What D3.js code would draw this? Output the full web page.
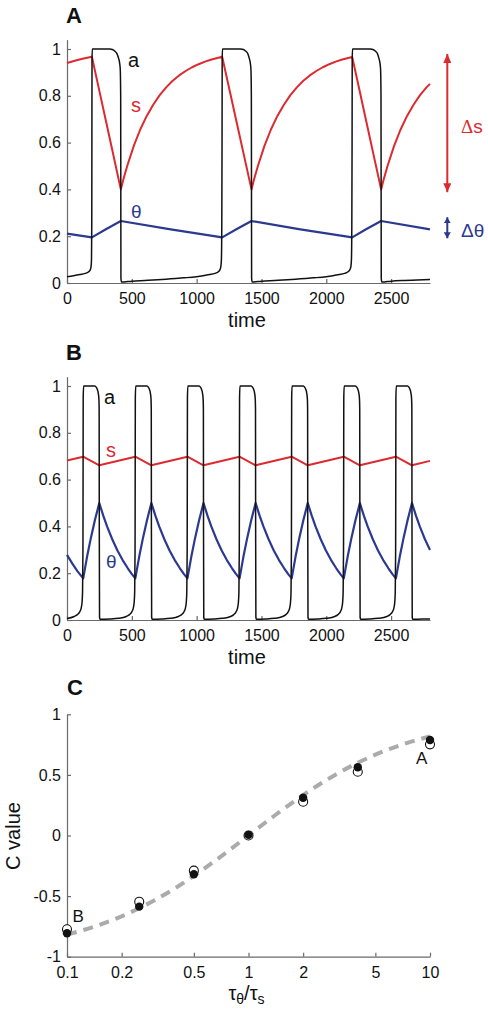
<!DOCTYPE html>
<html><head><meta charset="utf-8">
<script src="https://cdn.jsdelivr.net/npm/d3@7"></script>
<style>
body{margin:0;background:#fff;}
svg{display:block;}
text{font-family:"Liberation Sans",Arial,Helvetica,sans-serif;}
</style></head>
<body>
<script>
// ---------- DATA ----------
const timeTicks = [0,500,1000,1500,2000,2500];
const actTicks = [0,0.2,0.4,0.6,0.8,1];
const ratioTicks = [0.1,0.2,0.5,1,2,5,10];
const cTicks = [-1,-0.5,0,0.5,1];

// Panel A (tau_theta/tau_s = 10)
const aA = [[0,0.027],[50,0.031],[100,0.036],[140,0.041],[165,0.047],[178,0.055],[185,0.068],[189,0.1],[191,0.25],[192,0.6],[193,0.95],[195,1.0],
[330,1.0],[350,0.998],[370,0.99],[385,0.98],[398,0.96],[406,0.94],[411,0.91],[414,0.8],[415,0.4],[416,0.02],[420,0.004],
[500,0.008],[600,0.011],[700,0.014],[800,0.018],[900,0.022],[1000,0.027],[1050,0.031],[1100,0.036],[1140,0.041],[1165,0.047],[1178,0.055],[1186,0.068],[1191,0.1],[1194,0.25],[1196,0.6],[1197,0.95],[1199,1.0],
[1340,1.0],[1360,0.998],[1380,0.99],[1395,0.98],[1406,0.96],[1414,0.94],[1419,0.91],[1422,0.8],[1423,0.4],[1424,0.02],[1428,0.004],
[1500,0.008],[1600,0.011],[1700,0.014],[1800,0.018],[1900,0.022],[2000,0.027],[2050,0.031],[2100,0.036],[2140,0.041],[2165,0.047],[2180,0.055],[2189,0.068],[2194,0.1],[2197,0.25],[2199,0.6],[2200,0.95],[2202,1.0],
[2340,1.0],[2360,0.998],[2380,0.99],[2395,0.98],[2406,0.96],[2414,0.94],[2419,0.91],[2422,0.8],[2423,0.4],[2424,0.02],[2428,0.004],
[2500,0.008],[2600,0.011],[2700,0.013],[2800,0.015]];
const sA = [[0,0.94],[60,0.95],[120,0.958],[192,0.967],[250,0.82],[300,0.693],[350,0.566],[415,0.40],
[435,0.443],[465,0.501],[515,0.586],[565,0.656],[615,0.714],[665,0.762],[715,0.803],[765,0.836],[815,0.864],[865,0.887],[915,0.906],[965,0.922],[1015,0.935],[1065,0.946],[1115,0.955],[1197,0.967],
[1260,0.809],[1320,0.658],[1380,0.508],[1423,0.40],
[1443,0.443],[1473,0.501],[1523,0.586],[1573,0.656],[1623,0.714],[1673,0.762],[1723,0.803],[1773,0.836],[1823,0.864],[1873,0.887],[1923,0.906],[1973,0.922],[2023,0.935],[2073,0.946],[2123,0.955],[2200,0.966],
[2260,0.814],[2320,0.661],[2380,0.509],[2423,0.40],
[2443,0.443],[2473,0.501],[2523,0.586],[2573,0.656],[2623,0.714],[2673,0.762],[2723,0.803],[2773,0.836],[2800,0.851]];
const thA = [[0,0.211],[192,0.195],[300,0.230],[415,0.265],[800,0.229],[1197,0.195],[1310,0.231],[1423,0.265],[1800,0.229],[2200,0.195],[2310,0.231],[2423,0.265],[2800,0.229]];

// Panel B (tau_theta/tau_s = 0.1)
const aB = [[0,0.006],[55,0.015],[80,0.023],[97,0.034],[109,0.05],[116,0.075],[120,0.12],[123,0.3],[124,0.6],[125,0.95],[128,1.0],[215,1.0],[225,0.995],[234,0.985],[241,0.97],[246,0.945],[248,0.9],[249,0.4],[251,0.01],[255,0.003],
[330,0.004],[400,0.007],[457,0.015],[482,0.023],[499,0.034],[511,0.05],[518,0.075],[522,0.12],[525,0.3],[526,0.6],[527,0.95],[530,1.0],[617,1.0],[627,0.995],[636,0.985],[643,0.97],[648,0.945],[650,0.9],[651,0.4],[653,0.01],[657,0.003],
[730,0.004],[800,0.007],[859,0.015],[884,0.023],[901,0.034],[913,0.05],[920,0.075],[924,0.12],[927,0.3],[928,0.6],[929,0.95],[932,1.0],[1019,1.0],[1029,0.995],[1038,0.985],[1045,0.97],[1050,0.945],[1052,0.9],[1053,0.4],[1055,0.01],[1059,0.003],
[1130,0.004],[1200,0.007],[1261,0.015],[1286,0.023],[1303,0.034],[1315,0.05],[1322,0.075],[1326,0.12],[1329,0.3],[1330,0.6],[1331,0.95],[1334,1.0],[1421,1.0],[1431,0.995],[1440,0.985],[1447,0.97],[1452,0.945],[1454,0.9],[1455,0.4],[1457,0.01],[1461,0.003],
[1530,0.004],[1600,0.007],[1663,0.015],[1688,0.023],[1705,0.034],[1717,0.05],[1724,0.075],[1728,0.12],[1731,0.3],[1732,0.6],[1733,0.95],[1736,1.0],[1823,1.0],[1833,0.995],[1842,0.985],[1849,0.97],[1854,0.945],[1856,0.9],[1857,0.4],[1859,0.01],[1863,0.003],
[1930,0.004],[2000,0.007],[2065,0.015],[2090,0.023],[2107,0.034],[2119,0.05],[2126,0.075],[2130,0.12],[2133,0.3],[2134,0.6],[2135,0.95],[2138,1.0],[2225,1.0],[2235,0.995],[2244,0.985],[2251,0.97],[2256,0.945],[2258,0.9],[2259,0.4],[2261,0.01],[2265,0.003],
[2330,0.004],[2400,0.007],[2467,0.015],[2492,0.023],[2509,0.034],[2521,0.05],[2528,0.075],[2532,0.12],[2535,0.3],[2536,0.6],[2537,0.95],[2540,1.0],[2627,1.0],[2637,0.995],[2646,0.985],[2653,0.97],[2658,0.945],[2660,0.9],[2661,0.4],[2663,0.01],[2667,0.003],
[2740,0.004],[2800,0.004]];
const sB = [[0,0.682],[125,0.698],[249,0.661],[527,0.698],[651,0.661],[929,0.698],[1053,0.661],[1331,0.698],[1455,0.661],[1733,0.698],[1857,0.661],[2135,0.698],[2259,0.661],[2537,0.698],[2661,0.661],[2800,0.68]];
const thB = [[0,0.278],[40,0.242],[80,0.209],[125,0.178],[155,0.271],[185,0.353],[215,0.426],[249,0.5],
[279,0.447],[309,0.4],[349,0.345],[389,0.297],[429,0.256],[469,0.221],[499,0.197],[527,0.178],[557,0.271],[587,0.353],[617,0.426],[651,0.5],
[681,0.447],[711,0.4],[751,0.345],[791,0.297],[831,0.256],[871,0.221],[901,0.197],[929,0.178],[959,0.271],[989,0.353],[1019,0.426],[1053,0.5],
[1083,0.447],[1113,0.4],[1153,0.345],[1193,0.297],[1233,0.256],[1273,0.221],[1303,0.197],[1331,0.178],[1361,0.271],[1391,0.353],[1421,0.426],[1455,0.5],
[1485,0.447],[1515,0.4],[1555,0.345],[1595,0.297],[1635,0.256],[1675,0.221],[1705,0.197],[1733,0.178],[1763,0.271],[1793,0.353],[1823,0.426],[1857,0.5],
[1887,0.447],[1917,0.4],[1957,0.345],[1997,0.297],[2037,0.256],[2077,0.221],[2107,0.197],[2135,0.178],[2165,0.271],[2195,0.353],[2225,0.426],[2259,0.5],
[2289,0.447],[2319,0.4],[2359,0.345],[2399,0.297],[2439,0.256],[2479,0.221],[2509,0.197],[2537,0.178],[2567,0.271],[2597,0.353],[2627,0.426],[2661,0.5],
[2691,0.447],[2721,0.4],[2761,0.345],[2800,0.299]];

// Delta annotations (panel A)
const deltaS = [0.388, 0.979];
const deltaTh = [0.191, 0.281];

// Panel C
const ratio = [0.1,0.25,0.5,1,2,4,10];
const cFilled = [-0.807,-0.587,-0.32,0.005,0.312,0.563,0.788];
const cOpen = [-0.774,-0.546,-0.29,0.0,0.279,0.526,0.752];
const theoryX = [0.1,0.15,0.2,0.3,0.4,0.5,0.7,1,1.4,2,3,4,5,7,10];
const theoryC = [-0.818,-0.739,-0.667,-0.538,-0.429,-0.333,-0.176,0,0.167,0.333,0.5,0.6,0.667,0.75,0.818];

// ---------- DRAW ----------
const W=488,H=1012;
const RED="#dc2a30", BLUE="#2b3a8f", AX="#6a6a6a";
const svg=d3.select("body").append("svg").attr("width",W).attr("height",H);

const x = d3.scaleLinear().domain([0,2800]).range([67,430]);

function styleAxis(g){
  g.select(".domain").attr("stroke",AX).attr("stroke-width",1.2);
  g.selectAll(".tick line").attr("stroke",AX).attr("stroke-width",1.2);
  g.selectAll(".tick text").attr("fill","#111").attr("font-size",16)
   .attr("font-family",'"Liberation Sans",Arial,sans-serif');
}

function timePanel(y0, aD, sD, thD){
  const y = d3.scaleLinear().domain([0,1.04]).range([y0, y0-1.04*234]);
  const gx = svg.append("g").attr("transform",`translate(0,${y0})`)
    .call(d3.axisBottom(x).tickValues(timeTicks).tickFormat(d3.format("d")).tickSize(-4).tickSizeOuter(0).tickPadding(9.6));
  styleAxis(gx);
  const gy = svg.append("g").attr("transform",`translate(67,0)`)
    .call(d3.axisLeft(y).tickValues(actTicks).tickFormat(d=>d===0||d===1?String(d):d3.format(".1f")(d)).tickSize(-4).tickSizeOuter(0).tickPadding(6));
  styleAxis(gy);
  const lineM = d3.line().x(d=>x(d[0])).y(d=>y(d[1])).curve(d3.curveMonotoneX);
  const lineL = d3.line().x(d=>x(d[0])).y(d=>y(d[1]));
  svg.append("path").datum(thD).attr("d",lineL).attr("fill","none").attr("stroke",BLUE).attr("stroke-width",2.2).attr("stroke-linejoin","round");
  svg.append("path").datum(sD).attr("d",lineL).attr("fill","none").attr("stroke",RED).attr("stroke-width",2).attr("stroke-linejoin","round");
  svg.append("path").datum(aD).attr("d",lineM).attr("fill","none").attr("stroke","#111").attr("stroke-width",1.5);
  svg.append("text").attr("x",247).attr("y",y0+44).attr("text-anchor","middle").attr("font-size",20).attr("fill","#111").text("time");
  return y;
}

// Panel A
const yA = timePanel(283, aA, sA, thA);
svg.append("text").attr("x",66).attr("y",22.7).attr("font-size",22).attr("font-weight","bold").attr("fill","#111").text("A");
svg.append("text").attr("x",128).attr("y",66.7).attr("font-size",20).attr("fill","#111").text("a");
svg.append("text").attr("x",131).attr("y",112.3).attr("font-size",20).attr("fill",RED).text("s");
svg.append("text").attr("x",131).attr("y",218.3).attr("font-size",19).attr("fill",BLUE).attr("font-family",'"Liberation Serif","Times New Roman",serif').text("θ");

// Delta arrows
const defs = svg.append("defs");
function arrowHead(id,color,w,h){
  defs.append("marker").attr("id",id).attr("viewBox",`0 0 ${h} ${w}`).attr("refX",h).attr("refY",w/2)
   .attr("markerWidth",h).attr("markerHeight",w).attr("markerUnits","userSpaceOnUse").attr("orient","auto-start-reverse")
   .append("path").attr("d",`M0,0L${h},${w/2}L0,${w}Z`).attr("fill",color);
}
arrowHead("arS",RED,8,9);
arrowHead("arT",BLUE,7,6);
svg.append("line").attr("x1",447.3).attr("x2",447.3).attr("y1",yA(deltaS[0])).attr("y2",yA(deltaS[1]))
  .attr("stroke",RED).attr("stroke-width",2).attr("marker-start","url(#arS)").attr("marker-end","url(#arS)");
svg.append("line").attr("x1",447.3).attr("x2",447.3).attr("y1",yA(deltaTh[0])).attr("y2",yA(deltaTh[1]))
  .attr("stroke",BLUE).attr("stroke-width",2).attr("marker-start","url(#arT)").attr("marker-end","url(#arT)");
const tS = svg.append("text").attr("x",461).attr("y",132.7).attr("font-size",19).attr("fill",RED);
tS.append("tspan").attr("font-family",'"Liberation Serif","Times New Roman",serif').text("Δ");
tS.append("tspan").text("s");
svg.append("text").attr("x",461).attr("y",236.7).attr("font-size",19).attr("fill",BLUE)
  .attr("font-family",'"Liberation Serif","Times New Roman",serif').text("Δθ");

// Panel B
const yB = timePanel(620, aB, sB, thB);
svg.append("text").attr("x",66).attr("y",360).attr("font-size",22).attr("font-weight","bold").attr("fill","#111").text("B");
svg.append("text").attr("x",104).attr("y",404).attr("font-size",20).attr("fill","#111").text("a");
svg.append("text").attr("x",106).attr("y",457.3).attr("font-size",20).attr("fill",RED).text("s");
svg.append("text").attr("x",106).attr("y",568.3).attr("font-size",19).attr("fill",BLUE).attr("font-family",'"Liberation Serif","Times New Roman",serif').text("θ");

// Panel C
const xc = d3.scaleLog().domain([0.1,10]).range([67,430]);
const yc = d3.scaleLinear().domain([-1,1]).range([956.7,714.3]);
const gxc = svg.append("g").attr("transform","translate(0,956.7)")
  .call(d3.axisBottom(xc).tickValues(ratioTicks).tickFormat(d=>String(d)).tickSize(-4).tickSizeOuter(0).tickPadding(9.6));
styleAxis(gxc);
const gyc = svg.append("g").attr("transform","translate(67,0)")
  .call(d3.axisLeft(yc).tickValues(cTicks).tickFormat(d=>String(d)).tickSize(-4).tickSizeOuter(0).tickPadding(6));
styleAxis(gyc);

const theory = theoryX.map((r,i)=>[r,theoryC[i]]);
svg.append("path").datum(theory).attr("d",d3.line().x(d=>xc(d[0])).y(d=>yc(d[1])).curve(d3.curveMonotoneX))
  .attr("fill","none").attr("stroke","#ababab").attr("stroke-width",4).attr("stroke-dasharray","10,7");
svg.selectAll("circle.open").data(ratio).enter().append("circle").attr("class","open")
  .attr("cx",d=>xc(d)).attr("cy",(d,i)=>yc(cOpen[i])).attr("r",4.5).attr("fill","#fff").attr("stroke","#111").attr("stroke-width",1.1);
svg.selectAll("circle.fill").data(ratio).enter().append("circle").attr("class","fill")
  .attr("cx",d=>xc(d)).attr("cy",(d,i)=>yc(cFilled[i])).attr("r",4.2).attr("fill","#111");

svg.append("text").attr("x",67).attr("y",695).attr("font-size",22).attr("font-weight","bold").attr("fill","#111").text("C");
svg.append("text").attr("x",416).attr("y",764).attr("font-size",17).attr("fill","#111").text("A");
svg.append("text").attr("x",72.5).attr("y",922.3).attr("font-size",17).attr("fill","#111").text("B");
svg.append("text").attr("transform","translate(20,836) rotate(-90)").attr("text-anchor","middle").attr("font-size",20).attr("fill","#111").text("C value");

const xl = svg.append("text").attr("x",246.5).attr("y",1000).attr("text-anchor","middle").attr("font-size",20).attr("fill","#111")
  .attr("font-family",'"Liberation Serif","Times New Roman",serif');
xl.append("tspan").text("τ");
xl.append("tspan").attr("font-size",14).attr("dy",4).text("θ");
xl.append("tspan").attr("dy",-4).attr("font-family",'"Liberation Sans",Arial,sans-serif').text("/τ");
xl.append("tspan").attr("font-size",14).attr("dy",4).attr("font-family",'"Liberation Sans",Arial,sans-serif').text("s");
</script>
</body></html>
